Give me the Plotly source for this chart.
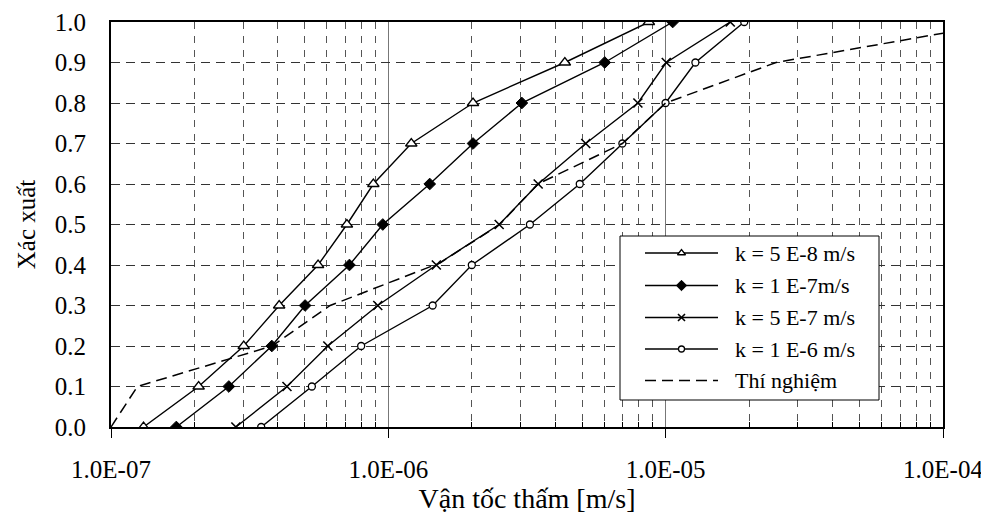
import plotly.graph_objects as go

# ---------------- data ----------------
prob = [0.0, 0.1, 0.2, 0.3, 0.4, 0.5, 0.6, 0.7, 0.8, 0.9, 1.0]
k_5e8 = [1.31e-7, 2.07e-7, 3.01e-7, 4.04e-7, 5.58e-7, 7.09e-7, 8.83e-7, 1.21e-6, 2.02e-6, 4.33e-6, 8.70e-6]
k_1e7 = [1.72e-7, 2.66e-7, 3.80e-7, 5.01e-7, 7.24e-7, 9.55e-7, 1.41e-6, 2.02e-6, 3.03e-6, 6.03e-6, 1.06e-5]
k_5e7 = [2.82e-7, 4.31e-7, 6.05e-7, 9.16e-7, 1.49e-6, 2.51e-6, 3.47e-6, 5.15e-6, 7.94e-6, 1.005e-5, 1.71e-5]
k_1e6 = [3.48e-7, 5.30e-7, 7.98e-7, 1.445e-6, 2.00e-6, 3.24e-6, 4.90e-6, 6.98e-6, 9.99e-6, 1.28e-5, 1.92e-5]
exp_v = [1.0e-7, 1.245e-7, 3.81e-7, 6.17e-7, 1.535e-6, 2.52e-6, 3.46e-6, 6.98e-6, 1.0e-5, 2.5e-5, 1.7e-4]
exp_p = [0.0, 0.1, 0.2, 0.3, 0.405, 0.5, 0.6, 0.7, 0.8, 0.9, 1.0]

series_names = ["k = 5 E-8 m/s", "k = 1 E-7m/s", "k = 5 E-7 m/s", "k = 1 E-6 m/s", "Thí nghiệm"]
x_tickvals = [1e-7, 1e-6, 1e-5, 1e-4]
x_ticktext = ["1.0E-07", "1.0E-06", "1.0E-05", "1.0E-04"]
x_title = "Vận tốc thấm [m/s]"
y_title = "Xác xuất"

FONT = "Liberation Serif"
# page has an 8px body margin, so the figure is sized/offset to compensate
W, H = 981, 513
ML, MR, MT, MB = 103, 46, 14, 94

minor_vals = [m * 10.0 ** e for e in (-7, -6, -5) for m in range(2, 10)]

marker_styles = [
    dict(symbol="triangle-up", size=10, color="white", line=dict(color="black", width=1.3)),
    dict(symbol="diamond", size=9, color="black", line=dict(color="black", width=1)),
    dict(symbol="x-thin", size=9, color="black", line=dict(color="black", width=1.6)),
    dict(symbol="circle", size=7, color="white", line=dict(color="black", width=1.3)),
]
legend_marker_styles = [
    dict(symbol="triangle-up", size=7, color="white", line=dict(color="black", width=1.3)),
    dict(symbol="diamond", size=8, color="black", line=dict(color="black", width=1)),
    dict(symbol="x-thin", size=7, color="black", line=dict(color="black", width=1.6)),
    dict(symbol="circle", size=6, color="white", line=dict(color="black", width=1.3)),
]

fig = go.Figure()

for vals, name, ms in zip([k_5e8, k_1e7, k_5e7, k_1e6], series_names[:4], marker_styles):
    fig.add_trace(go.Scatter(x=vals, y=prob, mode="lines+markers", name=name,
                             line=dict(color="black", width=1.4), marker=ms,
                             showlegend=False))

fig.add_trace(go.Scatter(x=exp_v, y=exp_p, mode="lines", name=series_names[4],
                         line=dict(color="black", width=1.5, dash="11px,6px"),
                         showlegend=False))

# ---------------- custom legend drawn in pixel-space overlay axes (page px) ----------------
leg_box = (620, 879, 236, 400)  # left, right, top, bottom (page px)
leg_rows = [253, 285.5, 317.5, 349, 380.5]
leg_line_x = (645, 718)
leg_text_x = 733
OFF = 8
plot_left, plot_right = ML + OFF, W - MR + OFF
plot_top, plot_bottom = MT + OFF, H - MB + OFF

bx0, bx1, by0, by1 = leg_box
fig.add_trace(go.Scatter(x=[bx0, bx1, bx1, bx0, bx0], y=[by0, by0, by1, by1, by0],
                         xaxis="x2", yaxis="y2", mode="lines", fill="toself",
                         fillcolor="white", line=dict(color="black", width=1),
                         showlegend=False, hoverinfo="skip"))

for i, (name, yy) in enumerate(zip(series_names, leg_rows)):
    dash = "solid" if i < 4 else "11px,6px"
    fig.add_trace(go.Scatter(x=list(leg_line_x), y=[yy, yy], xaxis="x2", yaxis="y2",
                             mode="lines", line=dict(color="black", width=1.4, dash=dash),
                             showlegend=False, hoverinfo="skip"))
    if i < 4:
        fig.add_trace(go.Scatter(x=[(leg_line_x[0] + leg_line_x[1]) / 2], y=[yy], xaxis="x2",
                                 yaxis="y2", mode="markers", marker=legend_marker_styles[i],
                                 showlegend=False, hoverinfo="skip"))
    fig.add_annotation(x=leg_text_x, y=yy, xref="x2", yref="y2", text=name,
                       showarrow=False, xanchor="left", yanchor="middle",
                       font=dict(family=FONT, size=22, color="black"))

fig.update_layout(
    width=W, height=H,
    margin=dict(l=ML, r=MR, t=MT, b=MB, autoexpand=False),
    paper_bgcolor="white", plot_bgcolor="white",
    font=dict(family=FONT, color="black"),
    showlegend=False,
    xaxis=dict(
        type="log", range=[-7, -4], automargin=False,
        tickmode="array", tickvals=x_tickvals, ticktext=x_ticktext,
        tickfont=dict(family=FONT, size=25, color="black"),
        ticks="outside", ticklen=9, tickcolor="black", tickwidth=1,
        ticklabelstandoff=10,
        showgrid=True, gridcolor="#777777", gridwidth=1,
        minor=dict(tickvals=minor_vals, showgrid=True, gridcolor="#555555",
                   griddash="7px,7px", gridwidth=1, ticks="inside", ticklen=5,
                   tickcolor="black"),
        showline=True, linecolor="black", linewidth=2, mirror=True,
        zeroline=False,
        title=dict(text=x_title, font=dict(family=FONT, size=28, color="black"), standoff=4),
    ),
    yaxis=dict(
        range=[0, 1], dtick=0.1, tick0=0, tickformat=".1f", automargin=False,
        tickfont=dict(family=FONT, size=25, color="black"),
        ticks="", ticklabelstandoff=18,
        showgrid=True, gridcolor="#333333", griddash="9px,6px", gridwidth=1,
        showline=True, linecolor="black", linewidth=2, mirror=True,
        zeroline=False,
        title=dict(text=y_title, font=dict(family=FONT, size=25, color="black"), standoff=12),
    ),
    xaxis2=dict(overlaying="x", range=[plot_left, plot_right], visible=False, fixedrange=True),
    yaxis2=dict(overlaying="y", range=[plot_bottom, plot_top], visible=False, fixedrange=True),
)

fig.write_html("out.html")
